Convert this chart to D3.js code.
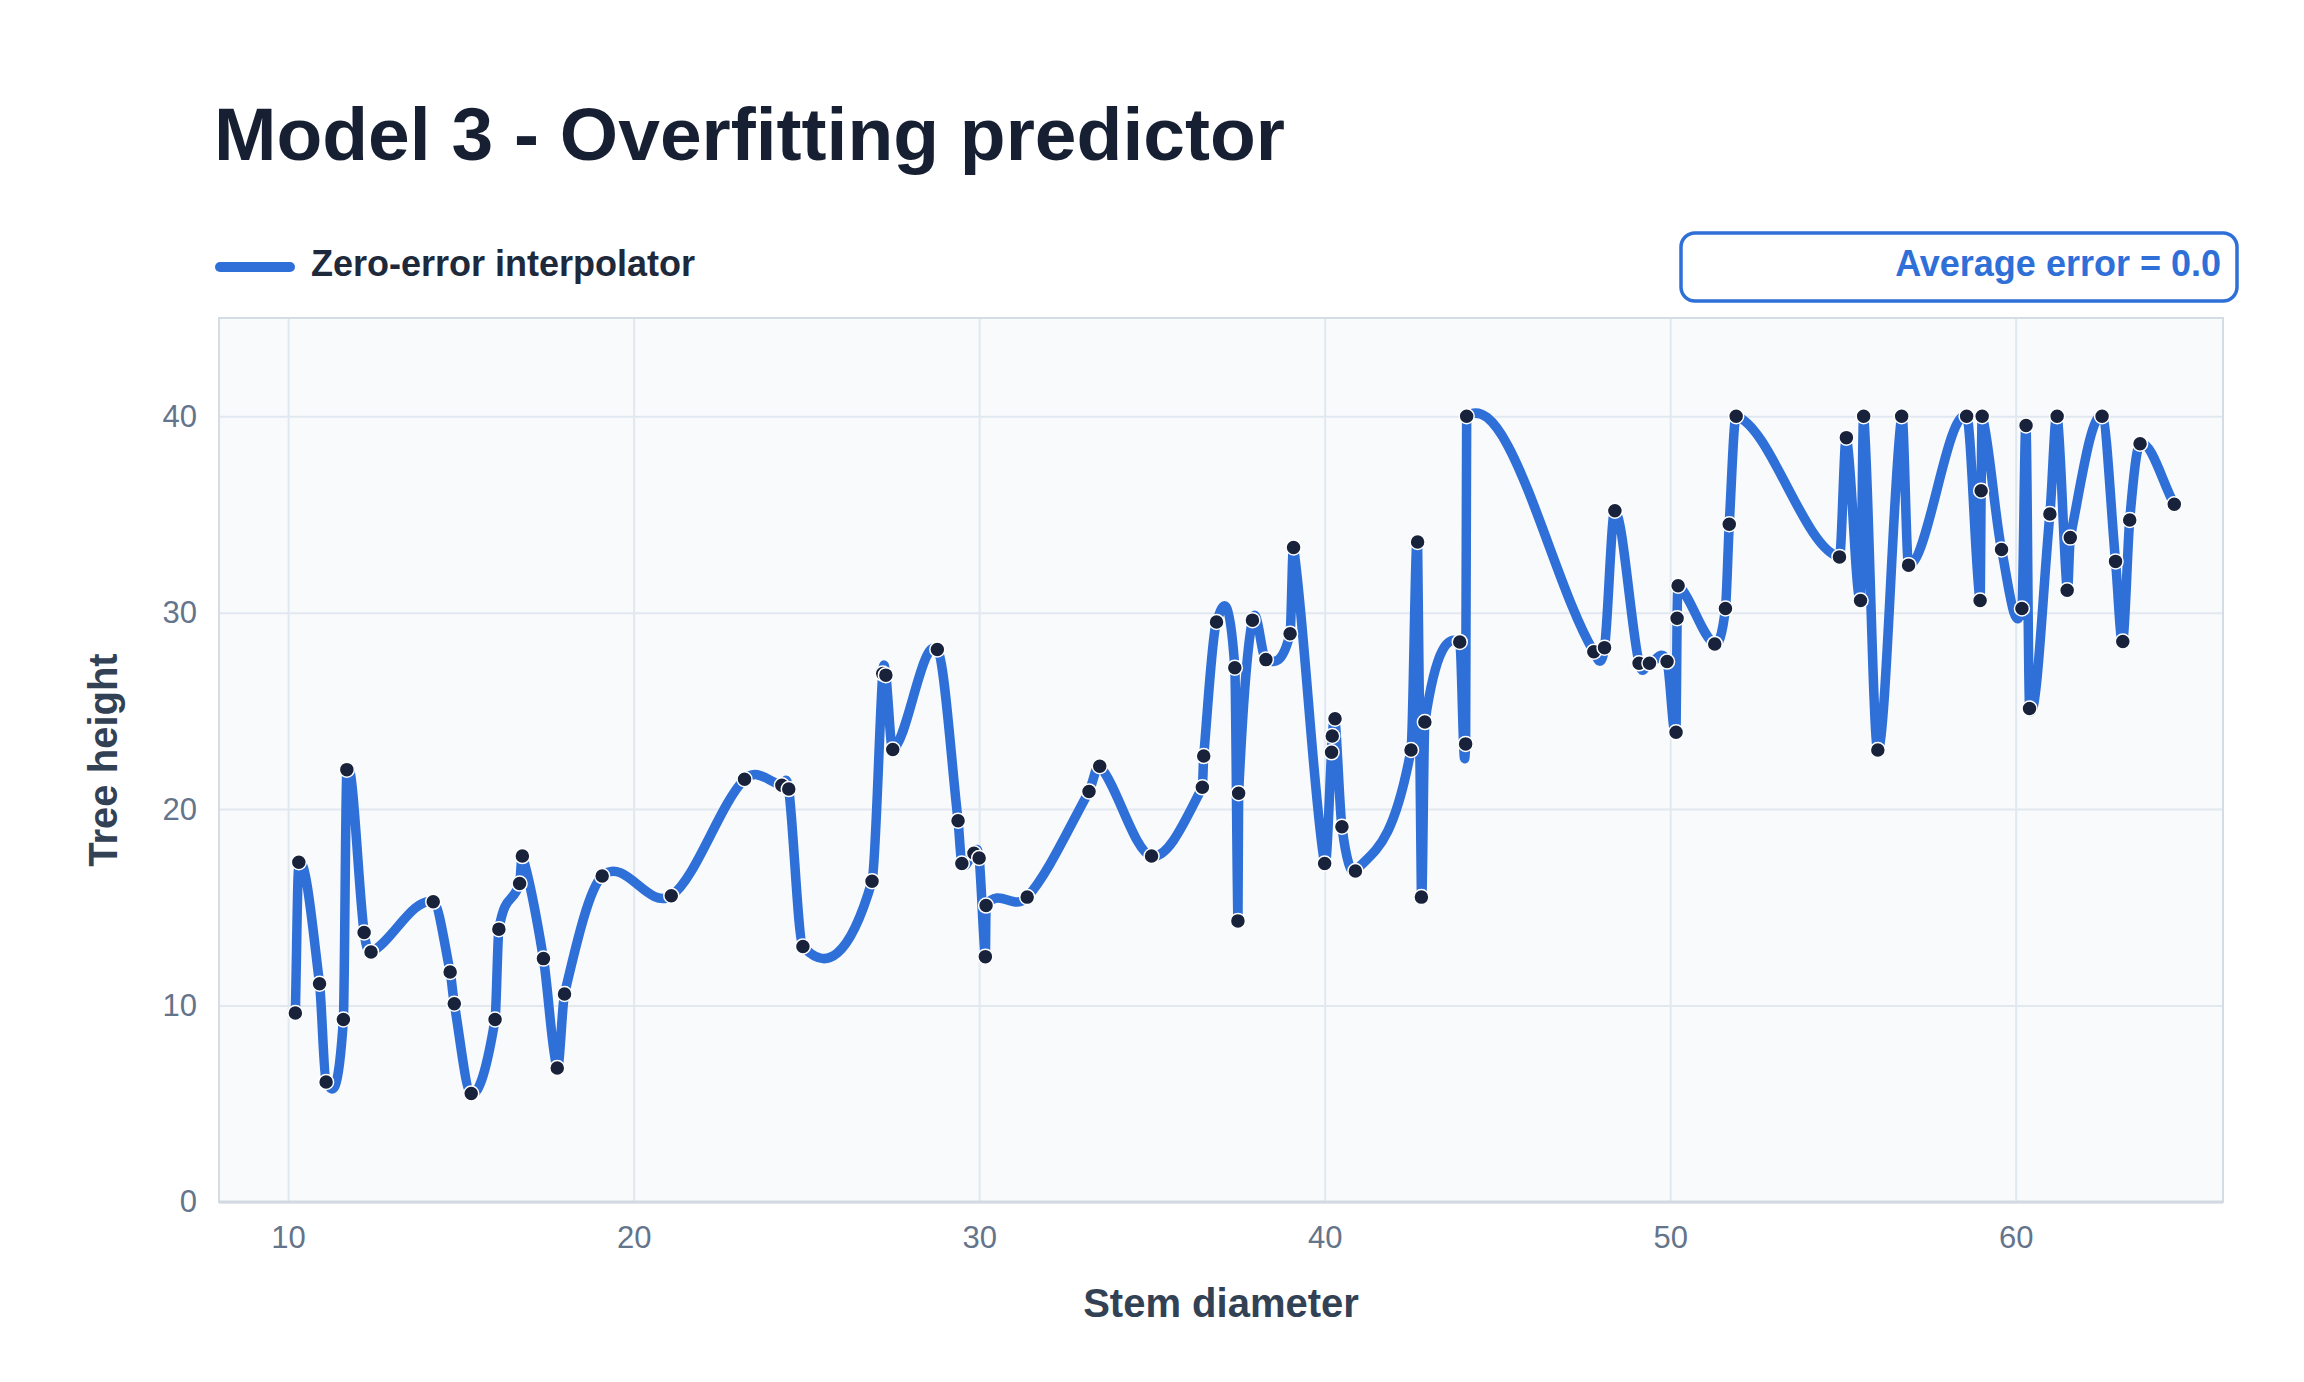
<!DOCTYPE html>
<html>
<head>
<meta charset="utf-8">
<script src="https://cdn.jsdelivr.net/npm/d3@7"></script>
<style>
    body { margin: 0; background: #ffffff; }
    svg { display: block; font-family: "Liberation Sans", Arial, Helvetica, sans-serif; }
</style>
</head>
<body>
<div id="chart"></div>
<script>

// data
var stemDiameter = [
    10.21, 10.31, 10.91, 11.10, 11.60, 11.70, 12.20, 12.40, 14.20, 14.69,
    14.81, 15.30, 15.99, 16.10, 16.70, 16.78, 17.39, 17.79, 18.00, 19.09,
    21.09, 23.21, 24.29, 24.49, 24.90, 26.90, 27.21, 27.30, 27.50, 28.79,
    29.39, 29.50, 29.85, 30.00, 30.18, 30.20, 31.39, 33.18, 33.49, 34.99,
    36.46, 36.50, 36.87, 37.40, 37.49, 37.51, 37.91, 38.30, 39.00, 39.10,
    40.00, 40.20, 40.22, 40.30, 40.50, 40.89, 42.50, 42.69, 42.80, 42.90,
    43.91, 44.08, 44.11, 47.79, 48.10, 48.40, 49.10, 49.40, 49.91, 50.17,
    50.20, 50.23, 51.29, 51.60, 51.71, 51.91, 54.90, 55.10, 55.51, 55.60,
    56.01, 56.70, 56.90, 58.58, 58.97, 59.00, 59.03, 59.59, 60.18, 60.30,
    60.40, 60.99, 61.20, 61.49, 61.58, 62.50, 62.89, 63.10, 63.30, 63.60,
    64.59
];
var treeHeight = [
    9.62, 17.30, 11.11, 6.11, 9.29, 22.01, 13.72, 12.73, 15.28, 11.71,
    10.09, 5.52, 9.29, 13.89, 16.21, 17.61, 12.39, 6.82, 10.59, 16.59,
    15.59, 21.52, 21.21, 21.02, 13.01, 16.33, 26.90, 26.82, 23.03, 28.13,
    19.41, 17.23, 17.75, 17.51, 12.49, 15.09, 15.52, 20.90, 22.18, 17.61,
    21.11, 22.70, 29.53, 27.20, 14.31, 20.81, 29.62, 27.61, 28.93, 33.32,
    17.23, 22.89, 23.72, 24.60, 19.10, 16.85, 23.01, 33.60, 15.52, 24.43,
    28.51, 23.32, 40.00, 28.01, 28.22, 35.19, 27.42, 27.42, 27.51, 23.91,
    29.72, 31.37, 28.41, 30.21, 34.50, 40.00, 32.84, 38.91, 30.62, 40.00,
    23.01, 40.00, 32.42, 40.00, 30.62, 36.21, 40.00, 33.22, 30.21, 39.53,
    25.12, 35.02, 40.00, 31.14, 33.82, 40.00, 32.61, 28.53, 34.72, 38.60,
    35.52
];
var xTicks = [10, 20, 30, 40, 50, 60];
var yTicks = [0, 10, 20, 30, 40];
var xDomain = [8, 66];
var yDomain = [0, 45];
var averageError = 0.0;

var width = 2304;
var height = 1382;
var margin = {top: 318, left: 219, right: 81, bottom: 180};

var points = stemDiameter.map(function(d, i) {
    return {x: d, y: treeHeight[i]};
});

// cubic hermite curve, tangents from centred finite differences
function FiniteDiff(context) {
    this._context = context;
}
FiniteDiff.prototype = {
    areaStart: function() { this._line = 0; },
    areaEnd: function() { this._line = NaN; },
    lineStart: function() { this._xs = []; this._ys = []; },
    point: function(x, y) { this._xs.push(+x); this._ys.push(+y); },
    lineEnd: function() {
        var xs = this._xs, ys = this._ys, n = xs.length, ctx = this._context;
        if (!n) return;
        ctx.moveTo(xs[0], ys[0]);
        if (n === 1) return;
        var m = [];
        for (var i = 0; i < n; i++) {
            if (i === 0) m.push((ys[1] - ys[0]) / (xs[1] - xs[0]));
            else if (i === n - 1) m.push((ys[i] - ys[i - 1]) / (xs[i] - xs[i - 1]));
            else m.push((ys[i + 1] - ys[i - 1]) / (xs[i + 1] - xs[i - 1]));
        }
        for (var j = 0; j < n - 1; j++) {
            var h = (xs[j + 1] - xs[j]) / 3;
            ctx.bezierCurveTo(xs[j] + h, ys[j] + m[j] * h,
                xs[j + 1] - h, ys[j + 1] - m[j + 1] * h,
                xs[j + 1], ys[j + 1]);
        }
    }
};
function curveFiniteDiff(context) { return new FiniteDiff(context); }

var svg = d3.select("#chart")
    .append("svg")
    .attr("width", width)
    .attr("height", height);

var xScale = d3.scaleLinear()
    .domain(xDomain)
    .range([margin.left, width - margin.right]);

var yScale = d3.scaleLinear()
    .domain(yDomain)
    .range([height - margin.bottom, margin.top]);

// title
svg.append("text")
    .attr("x", 214)
    .attr("y", 160)
    .attr("font-size", 75)
    .attr("font-weight", 700)
    .attr("fill", "#172033")
    .text("Model 3 - Overfitting predictor");

// legend
svg.append("line")
    .attr("x1", 220)
    .attr("x2", 290)
    .attr("y1", 267)
    .attr("y2", 267)
    .attr("stroke", "#2f6fd8")
    .attr("stroke-width", 10)
    .attr("stroke-linecap", "round");

svg.append("text")
    .attr("x", 311)
    .attr("y", 276)
    .attr("font-size", 36)
    .attr("font-weight", 700)
    .attr("fill", "#1e293b")
    .text("Zero-error interpolator");

// error box
svg.append("rect")
    .attr("x", 1681)
    .attr("y", 233)
    .attr("width", 556)
    .attr("height", 68)
    .attr("rx", 14)
    .attr("ry", 14)
    .attr("fill", "#ffffff")
    .attr("stroke", "#2f6fd8")
    .attr("stroke-width", 3.5);

svg.append("text")
    .attr("x", 2221)
    .attr("y", 276)
    .attr("text-anchor", "end")
    .attr("font-size", 36)
    .attr("font-weight", 700)
    .attr("fill", "#2f6fd8")
    .text("Average error = " + d3.format(".1f")(averageError));

// plot background
svg.append("rect")
    .attr("x", xScale(xDomain[0]))
    .attr("y", yScale(yDomain[1]))
    .attr("width", xScale(xDomain[1]) - xScale(xDomain[0]))
    .attr("height", yScale(yDomain[0]) - yScale(yDomain[1]))
    .attr("fill", "#f8fafc");

// grid
var xGrid = svg.append("g")
    .attr("transform", `translate(0,${height - margin.bottom})`)
    .call(d3.axisBottom(xScale)
        .tickValues(xTicks)
        .tickSize(-(height - margin.top - margin.bottom))
        .tickFormat(""));

var yGrid = svg.append("g")
    .attr("transform", `translate(${margin.left},0)`)
    .call(d3.axisLeft(yScale)
        .tickValues(yTicks)
        .tickSize(-(width - margin.left - margin.right))
        .tickFormat(""));

[xGrid, yGrid].forEach(function(g) {
    g.select(".domain").remove();
    g.selectAll(".tick line")
        .attr("stroke", "#e2e8f0")
        .attr("stroke-width", 2);
});

// plot frame
svg.append("rect")
    .attr("x", xScale(xDomain[0]))
    .attr("y", yScale(yDomain[1]))
    .attr("width", xScale(xDomain[1]) - xScale(xDomain[0]))
    .attr("height", yScale(yDomain[0]) - yScale(yDomain[1]))
    .attr("fill", "none")
    .attr("stroke", "#d6dce6")
    .attr("stroke-width", 2);

svg.append("line")
    .attr("x1", xScale(xDomain[0]))
    .attr("x2", xScale(xDomain[1]))
    .attr("y1", yScale(0))
    .attr("y2", yScale(0))
    .attr("stroke", "#d3d9e3")
    .attr("stroke-width", 3);

// tick labels
var xAxis = svg.append("g")
    .attr("transform", `translate(0,${height - margin.bottom})`)
    .call(d3.axisBottom(xScale)
        .tickValues(xTicks)
        .tickSize(0)
        .tickPadding(45));

var yAxis = svg.append("g")
    .attr("transform", `translate(${margin.left},0)`)
    .call(d3.axisLeft(yScale)
        .tickValues(yTicks)
        .tickSize(0)
        .tickPadding(22));

[xAxis, yAxis].forEach(function(g) {
    g.select(".domain").remove();
    g.selectAll(".tick text")
        .attr("font-size", 31)
        .attr("font-family", "\"Liberation Sans\", Arial, sans-serif")
        .attr("fill", "#64748b");
});
xAxis.selectAll(".tick text").attr("dy", null).attr("y", 46);

// axis titles
svg.append("text")
    .attr("x", (xScale(xDomain[0]) + xScale(xDomain[1])) / 2)
    .attr("y", 1317)
    .attr("text-anchor", "middle")
    .attr("font-size", 40)
    .attr("font-weight", 700)
    .attr("fill", "#334155")
    .text("Stem diameter");

svg.append("text")
    .attr("transform", `translate(117,${(yScale(yDomain[0]) + yScale(yDomain[1])) / 2}) rotate(-90)`)
    .attr("text-anchor", "middle")
    .attr("font-size", 40)
    .attr("font-weight", 700)
    .attr("fill", "#334155")
    .text("Tree height");

// interpolating line
var line = d3.line()
    .x(function(d) { return xScale(d.x); })
    .y(function(d) { return yScale(d.y); })
    .curve(curveFiniteDiff);

svg.append("path")
    .datum(points)
    .attr("d", line)
    .attr("fill", "none")
    .attr("stroke", "#2f6fd8")
    .attr("stroke-width", 9.5)
    .attr("stroke-linejoin", "round")
    .attr("stroke-linecap", "round");

// points
svg.append("g")
    .selectAll("circle")
    .data(points)
    .join("circle")
    .attr("cx", function(d) { return xScale(d.x); })
    .attr("cy", function(d) { return yScale(d.y); })
    .attr("r", 7.5)
    .attr("fill", "#18223a")
    .attr("stroke", "#ffffff")
    .attr("stroke-width", 1.5);

</script>
</body>
</html>
